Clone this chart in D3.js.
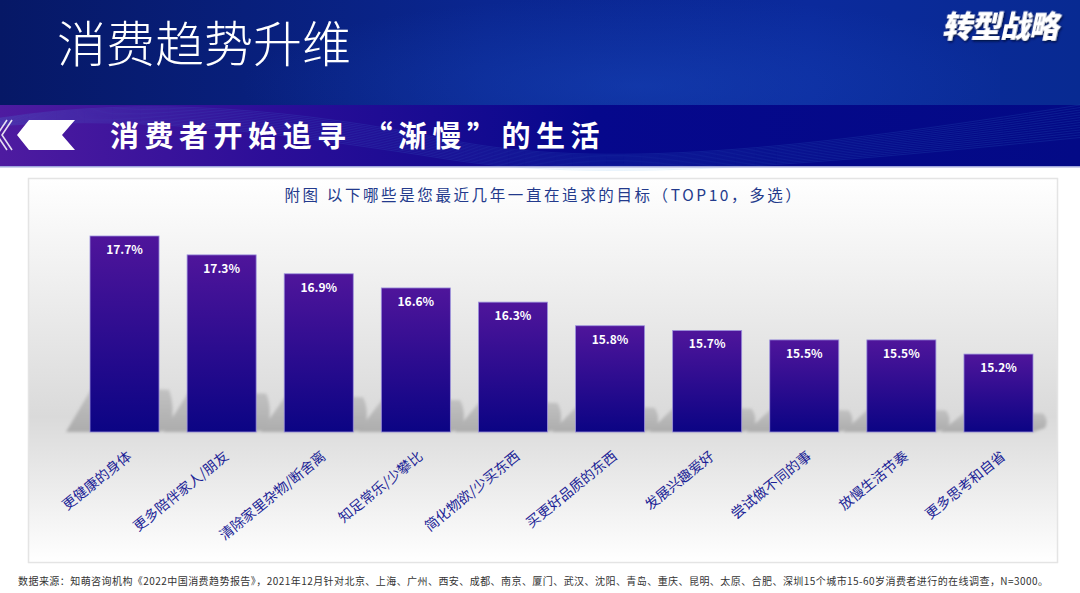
<!DOCTYPE html>
<html><head><meta charset="utf-8">
<script src="https://cdn.jsdelivr.net/npm/d3@7"></script>
<style>
html,body{margin:0;padding:0;background:#fff;}
svg{display:block;}
text{font-family:"Noto Sans CJK SC","Noto Sans",sans-serif;}
</style></head>
<body><svg id="c" width="1080" height="593"></svg>
<script>
const categories = ["更健康的身体","更多陪伴家人/朋友","清除家里杂物/断舍离","知足常乐/少攀比","简化物欲/少买东西","买更好品质的东西","发展兴趣爱好","尝试做不同的事","放慢生活节奏","更多思考和自省"];
const values = [17.7,17.3,16.9,16.6,16.3,15.8,15.7,15.5,15.5,15.2];
const valueLabels = ["17.7%","17.3%","16.9%","16.6%","16.3%","15.8%","15.7%","15.5%","15.5%","15.2%"];
const pageTitle = "消费趋势升维";
const sectionTitle = "消费者开始追寻 “渐慢”的生活";
const brand = "转型战略";
const chartTitle = "附图 以下哪些是您最近几年一直在追求的目标（TOP10，多选）";
const footnote = "数据来源：知萌咨询机构《2022中国消费趋势报告》，2021年12月针对北京、上海、广州、西安、成都、南京、厦门、武汉、沈阳、青岛、重庆、昆明、太原、合肥、深圳15个城市15-60岁消费者进行的在线调查，N=3000。";

const svg = d3.select("#c");
const defs = svg.append("defs");

function lg(id, stops, x2="0", y2="1"){
  const g = defs.append("linearGradient").attr("id",id).attr("x1",0).attr("y1",0).attr("x2",x2).attr("y2",y2);
  stops.forEach(s=>g.append("stop").attr("offset",s[0]).attr("stop-color",s[1]));
}
lg("hdr1",[[0,"#061866"],[0.45,"#0a2690"],[0.75,"#0b2a9c"],[1,"#082a92"]],"1","0");
lg("hdr2",[[0,"#4e1ba0"],[0.25,"#2c0e98"],[0.55,"#06088c"],[1,"#030a86"]],"1","0");
lg("panel",[[0,"#ffffff"],[0.62,"#dadada"],[1,"#ffffff"]]);
lg("bar",[[0,"#4f159b"],[1,"#0b0484"]]);
lg("shade",[[0,"#c2c2c2"],[1,"#acacac"]]);
const rg = defs.append("radialGradient").attr("id","glow").attr("cx",0.55).attr("cy",0.7).attr("r",0.5);
rg.append("stop").attr("offset",0).attr("stop-color","#1a4ac0").attr("stop-opacity",0.45);
rg.append("stop").attr("offset",1).attr("stop-color","#1a4ac0").attr("stop-opacity",0);
defs.append("filter").attr("id","blur").attr("x","-10%").attr("y","-50%").attr("width","120%").attr("height","200%")
  .append("feGaussianBlur").attr("stdDeviation",1.6);
const sh = defs.append("filter").attr("id","tshadow").attr("x","-10%").attr("y","-30%").attr("width","130%").attr("height","160%");
sh.append("feDropShadow").attr("dx",1.5).attr("dy",1.5).attr("stdDeviation",1).attr("flood-color","#000838").attr("flood-opacity",0.9);

// header band 1
svg.append("rect").attr("x",0).attr("y",0).attr("width",1080).attr("height",106).attr("fill","url(#hdr1)");
svg.append("rect").attr("x",200).attr("y",-40).attr("width",800).attr("height",180).attr("fill","url(#glow)");
svg.append("text").attr("x",57).attr("y",62).attr("fill","#fff").attr("font-size",49).attr("font-weight",300).text(pageTitle);
svg.append("text").attr("x",0).attr("y",0).attr("transform","translate(942,37) skewX(-12)")
  .attr("fill","#fff").attr("font-size",30).attr("font-weight",900).attr("letter-spacing",-1)
  .attr("filter","url(#tshadow)").text(brand);

// header band 2
svg.append("rect").attr("x",0).attr("y",105).attr("width",1080).attr("height",62).attr("fill","url(#hdr2)");
const waves = svg.append("g").attr("fill","none").attr("stroke","#4aa0e8");
for(let i=0;i<14;i++){
  waves.append("path")
    .attr("d",`M0,${118+i*0.6} C150,${95+i*1.5} 300,${110+i*2} 450,${140+i*1.5} S800,${150+i*1.2} 1080,${105+i*2.5}`)
    .attr("stroke-width",0.6).attr("stroke-opacity",0.22);
}
svg.append("rect").attr("x",0).attr("y",166).attr("width",1080).attr("height",1.5).attr("fill","#9fa6dc");
svg.append("path").attr("d","M17,135 L29,120 L75,120 L62,135 L75,150 L29,150 Z").attr("fill","#fff");
svg.append("path").attr("d","M12,120 L2,135 L12,150 M7,120 L-3,135 L7,150").attr("stroke","#fff").attr("stroke-width",1.6).attr("fill","none").attr("stroke-opacity",0.85);
svg.append("text").attr("x",110).attr("y",147).attr("fill","#fff").attr("font-size",29).attr("font-weight",700)
  .attr("letter-spacing",5.5).text(sectionTitle);

// panel
svg.append("rect").attr("x",28.5).attr("y",178.5).attr("width",1029).attr("height",384).attr("fill","url(#panel)")
  .attr("stroke","#e4e4e4").attr("stroke-width",1.5);
svg.append("text").attr("x",544).attr("y",201).attr("text-anchor","middle").attr("fill","#233a8c")
  .attr("font-size",15.5).attr("letter-spacing",2.6).text(chartTitle);

// scales
const x = d3.scaleBand().domain(categories).range([76.4,1046.6]).paddingInner(0.289).paddingOuter(0.14);
const y = d3.scaleLinear().domain([13.55,17.7]).range([432,236]);
const base = y.range()[0];

// shadows
const shG = svg.append("g").attr("filter","url(#blur)");
categories.forEach((c,i)=>{
  const L = x(c), R = L + x.bandwidth();
  const h = (base - y(values[i]))*0.2 + 5;
  const top = base - h;
  shG.append("path")
    .attr("d",`M${L-24},${base} L${L+2},${top} L${R+10},${top+2} Q${R+16},${top+h*0.4} ${R+12},${base-4} L${R},${base} Z`)
    .attr("fill","url(#shade)");
});

// bars
svg.append("g").selectAll("rect").data(values).join("rect")
  .attr("x",(d,i)=>x(categories[i])).attr("y",d=>y(d))
  .attr("width",x.bandwidth()).attr("height",d=>base-y(d))
  .attr("fill","url(#bar)").attr("stroke","#9c92dc").attr("stroke-width",0.8);

svg.append("g").selectAll("text").data(values).join("text")
  .attr("x",(d,i)=>x(categories[i])+x.bandwidth()/2).attr("y",d=>y(d)+18)
  .attr("text-anchor","middle").attr("fill","#fff").attr("font-size",12).attr("font-weight",700)
  .attr("font-family","Verdana, 'DejaVu Sans', sans-serif")
  .text((d,i)=>valueLabels[i]);

// category labels
svg.append("g").selectAll("text").data(categories).join("text")
  .attr("transform",c=>`translate(${x(c)+x.bandwidth()/2+8},458) rotate(-39)`)
  .attr("text-anchor","end").attr("fill","#1c1f96").attr("font-size",14)
  .text(c=>c);

// footnote
svg.append("text").attr("x",18).attr("y",585).attr("fill","#333").attr("font-size",10)
  .attr("textLength",1030).attr("lengthAdjust","spacing").text(footnote);
</script></body></html>
